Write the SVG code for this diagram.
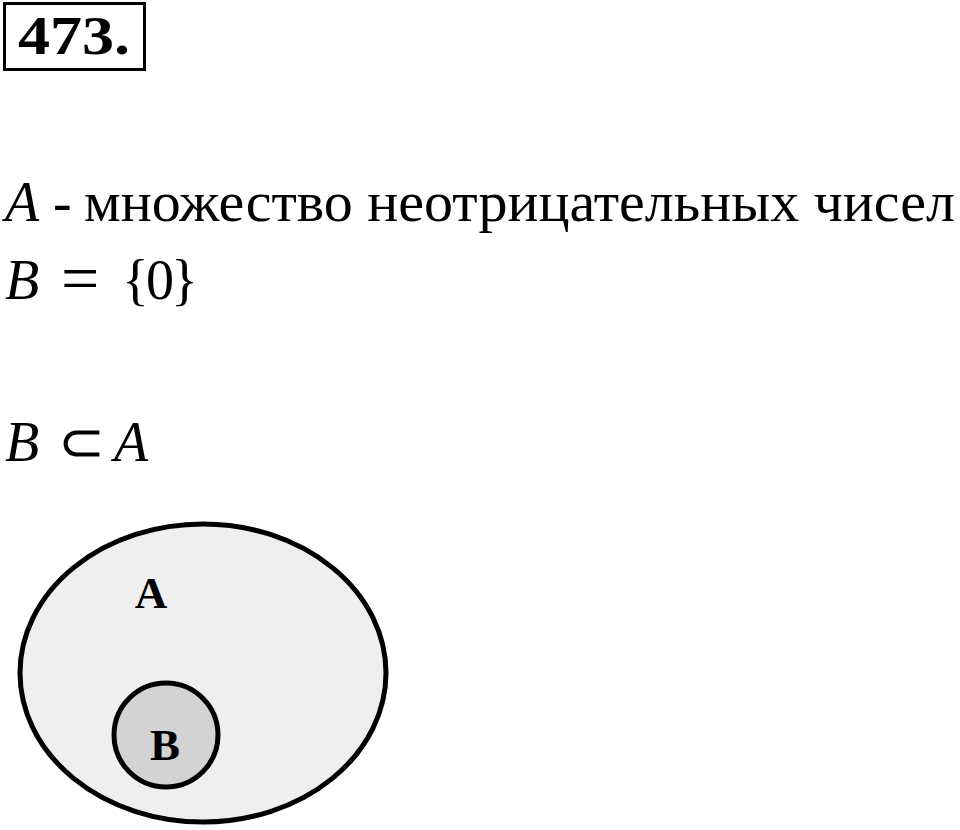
<svg xmlns="http://www.w3.org/2000/svg" width="960" height="830" viewBox="0 0 960 830">
<style>
.t{font-family:"Liberation Serif","Times New Roman",serif;fill:#000}
.m{font-family:"Liberation Serif","Times New Roman",serif;font-style:italic;fill:#000}
.lbl{font-family:"Liberation Serif","Times New Roman",serif;font-weight:bold;font-size:45px;fill:#000}
</style>
<rect width="960" height="830" fill="#fff"/>
<g id="header">
<rect x="4.5" y="3.5" width="140" height="66" fill="none" stroke="#000" stroke-width="3"/>
<text class="t" x="18" y="54" font-size="55" font-weight="bold" textLength="112" lengthAdjust="spacingAndGlyphs">473.</text>
</g>
<g id="text">
<text class="m" x="5" y="221" font-size="56">A</text>
<text class="t" x="53" y="221" font-size="56">-</text>
<text class="t" x="84" y="221" font-size="56" textLength="871" lengthAdjust="spacingAndGlyphs">множество неотрицательных чисел</text>
<text class="m" x="5" y="299" font-size="56">B</text>
<text class="t" x="61" y="301" font-size="68">=</text>
<text class="t" x="122" y="299" font-size="56" letter-spacing="-3">{0}</text>
<text class="m" x="5" y="461" font-size="56">B</text>
<text class="t" x="58" y="461" font-size="56">⊂</text>
<text class="m" x="114" y="461" font-size="56">A</text>
</g>
<g id="setA">
<ellipse cx="203" cy="673" rx="183" ry="149" fill="#efefef" stroke="#000" stroke-width="5"/>
<text class="lbl" x="151" y="608" text-anchor="middle">A</text>
</g>
<g id="setB">
<circle cx="166" cy="735" r="52" fill="#d3d3d3" stroke="#000" stroke-width="5"/>
<text class="lbl" x="165" y="760" text-anchor="middle">B</text>
</g>
</svg>
